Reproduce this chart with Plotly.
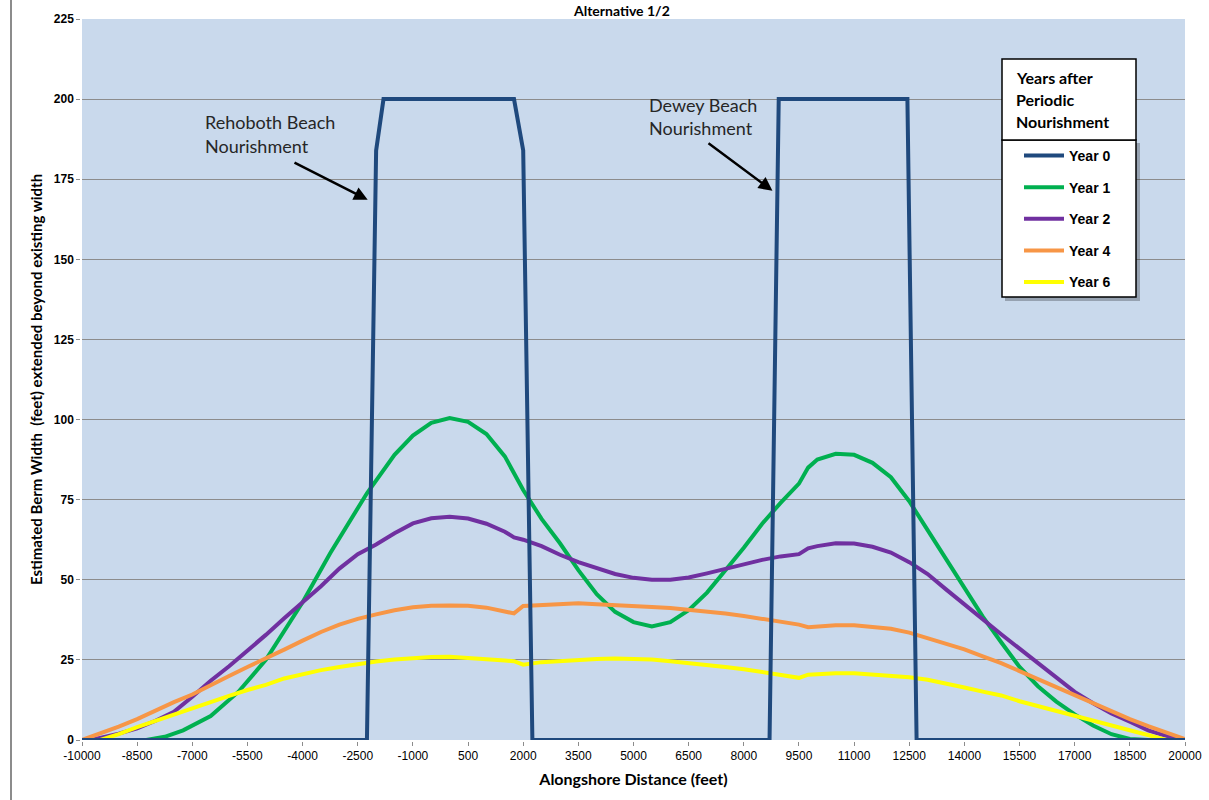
import plotly.graph_objects as go

# ---------------- data ----------------
x_year0 = [-10000, -2250, -2000, -1800, 1750, 2000, 2250, 8700, 8950, 12450, 12700, 20000]
y_year0 = [0, 0, 184, 200, 200, 184, 0, 0, 200, 200, 0, 0]

x_year1 = [-10000, -8250, -7750, -7250, -6500, -5750, -5000, -4000, -3250, -2250, -1500, -1000, -500, 0,
           500, 1000, 1500, 2000, 2500, 3000, 3500, 4000, 4500, 5000, 5500, 6000, 6500, 7000, 7500,
           8000, 8500, 9000, 9500, 9750, 10000, 10500, 11000, 11500, 12000, 12500, 13000, 13500,
           14000, 14500, 15000, 15500, 16000, 16500, 17000, 17500, 18000, 18500, 19000, 20000]
y_year1 = [0, 0, 1, 3, 7.5, 15, 25, 43, 58.3, 77, 89, 95, 99, 100.5,
           99.3, 95.5, 88.5, 78, 69, 61.4, 53, 45.5, 40, 36.8, 35.4, 36.8, 40.5, 46, 53,
           60, 67.5, 74, 80, 85, 87.5, 89.3, 89, 86.5, 82, 74.5, 65.5, 56.5,
           47.5, 38.5, 30.5, 22.8, 16.8, 12, 8, 4.5, 1.8, 0.3, 0, 0]

x_year2 = [-10000, -9750, -9000, -8500, -8000, -7500, -7000, -6500, -6000, -5500, -5000, -4500, -4000,
           -3500, -3000, -2500, -2000, -1500, -1000, -500, 0, 500, 1000, 1500, 1750, 2000, 2500,
           3000, 3500, 4000, 4500, 5000, 5500, 6000, 6500, 7000, 7500, 8000, 8500, 9000, 9500,
           9750, 10000, 10500, 11000, 11500, 12000, 12500, 13000, 13500, 14000, 14500, 15000,
           15500, 16000, 16500, 17000, 17500, 18000, 18500, 19000, 19500, 20000]
y_year2 = [0, 0, 2, 3.6, 6, 8.8, 13.5, 18.5, 23, 27.8, 32.8, 38, 43,
           48, 53.5, 58, 61, 64.5, 67.6, 69.2, 69.7, 69.1, 67.5, 65, 63.2, 62.5, 60.5,
           57.8, 55.5, 53.5, 51.8, 50.6, 50, 50, 50.7, 52, 53.5, 55, 56.2, 57.3, 58,
           59.8, 60.5, 61.4, 61.3, 60.3, 58.5, 55.5, 51.8, 47, 42.2, 37.5, 33,
           28.5, 24, 19.5, 15, 11.5, 8.3, 5.7, 3, 1.2, 0]

x_year4 = [-10000, -9500, -9000, -8500, -8000, -7500, -7000, -6500, -6000, -5500, -5000, -4500, -4000,
           -3500, -3000, -2500, -2000, -1500, -1000, -500, 0, 500, 1000, 1500, 1750, 2000, 2500,
           3000, 3500, 4000, 4500, 5000, 5500, 6000, 6500, 7000, 7500, 8000, 8500, 9000, 9500,
           9750, 10000, 10500, 11000, 11500, 12000, 12500, 13000, 13500, 14000, 14500, 15000,
           15500, 16000, 16500, 17000, 17500, 18000, 18500, 19000, 19500, 20000]
y_year4 = [0, 2, 4.2, 6.5, 9.2, 11.8, 14.2, 17.2, 20, 22.8, 25.4, 28.2, 31,
           33.7, 36, 37.8, 39.2, 40.5, 41.4, 41.9, 42, 41.9, 41.3, 40.3, 39.5, 41.8, 42,
           42.4, 42.7, 42.4, 42.2, 41.8, 41.5, 41.2, 40.7, 40.2, 39.5, 38.7, 37.8, 37, 36,
           35.2, 35.5, 35.8, 35.8, 35.3, 34.7, 33.5, 31.7, 30.2, 28.3, 26.1, 24,
           21.5, 19, 16.3, 13.7, 11.2, 8.8, 6.5, 4.3, 2.2, 0.3]

x_year6 = [-9500, -9000, -8500, -8000, -7500, -7000, -6500, -6000, -5500, -5000, -4500, -4000,
           -3500, -3000, -2500, -2000, -1500, -1000, -500, 0, 500, 1000, 1500, 1750, 2000, 2500,
           3000, 3500, 4000, 4500, 5000, 5500, 6000, 6500, 7000, 7500, 8000, 8500, 9000, 9500,
           9750, 10000, 10500, 11000, 11500, 12000, 12500, 13000, 13500, 14000, 14500, 15000,
           15500, 16000, 16500, 17000, 17500, 18000, 18500, 19000, 19500]
y_year6 = [0, 1.8, 4, 6, 7.8, 10, 11.8, 13.8, 15.6, 17.2, 19.2, 20.6,
           21.8, 22.8, 23.8, 24.5, 25.1, 25.6, 25.9, 26, 25.7, 25.3, 24.8, 24.6, 23.5, 24.3,
           24.7, 25.1, 25.3, 25.4, 25.4, 25.1, 24.6, 24.1, 23.5, 22.8, 22.1, 21.2, 20.2, 19.4,
           20.4, 20.6, 20.8, 20.8, 20.5, 20.2, 19.6, 18.8, 17.7, 16.4, 15.1, 13.9,
           12.1, 10.6, 9, 7.4, 5.8, 4.3, 2.8, 1.3, 0]

series_names = ["Year 0", "Year 1", "Year 2", "Year 4", "Year 6"]
series_colors = ["#1f497d", "#00b050", "#7030a0", "#f79646", "#ffff00"]
x_ticks = list(range(-10000, 20001, 1500))
y_ticks = list(range(0, 226, 25))

# ---------------- figure ----------------
W, H = 1209, 800
L, R, T, B = 82, 24, 19, 60
PW, PH = W - L - R, H - T - B


def px2paper_x(px):
    return (px - L) / PW


def py2paper_y(py):
    return (H - B - py) / PH


fig = go.Figure()
data = [(x_year0, y_year0), (x_year1, y_year1), (x_year2, y_year2), (x_year4, y_year4), (x_year6, y_year6)]
for i, ((xs, ys), name, col) in enumerate(zip(data, series_names, series_colors)):
    fig.add_trace(go.Scatter(
        x=xs, y=ys, mode="lines", name=name,
        line=dict(color=col, width=4),
        legendgroup=name,
        zorder=2 if i == 0 else 1,
    ))

font_cal = "Lato, 'Open Sans', sans-serif"
font_ar = "'Liberation Sans', Arial, sans-serif"

fig.update_layout(
    width=W, height=H,
    margin=dict(l=L, r=R, t=T, b=B, autoexpand=False),
    paper_bgcolor="white",
    plot_bgcolor="#c9d9ec",
    showlegend=True,
    legend=dict(
        x=px2paper_x(1019), y=py2paper_y(140), xanchor="left", yanchor="top",
        xref="paper", yref="paper",
        bgcolor="rgba(0,0,0,0)", borderwidth=0,
        font=dict(family=font_ar, size=14, color="black", weight="bold"),
        traceorder="grouped", tracegroupgap=10.4,
        itemwidth=40,
    ),
    xaxis=dict(
        range=[-10000, 20000], tickmode="array", tickvals=x_ticks,
        ticktext=[str(v) for v in x_ticks],
        showgrid=False, zeroline=False,
        showline=True, linecolor="#8c8c8c", linewidth=1.5,
        ticks="outside", ticklen=4, tickcolor="#8c8c8c",
        tickfont=dict(family=font_ar, size=12, color="black"),
        title=dict(text="<b>Alongshore Distance (feet)</b>",
                   font=dict(family=font_cal, size=16, color="black"), standoff=12),
        automargin=False,
    ),
    yaxis=dict(
        range=[0, 225], tickmode="array", tickvals=y_ticks,
        showgrid=True, gridcolor="#8c8c8c", gridwidth=1.3,
        zeroline=False,
        showline=True, linecolor="#8c8c8c", linewidth=1.5,
        ticks="outside", ticklen=4, tickcolor="#8c8c8c",
        tickfont=dict(family=font_ar, size=12, color="black", weight="bold"),
        title=dict(text="<b>Estimated Berm Width  (feet) extended beyond existing width</b>",
                   font=dict(family=font_cal, size=15, color="black"), standoff=8),
        automargin=False,
    ),
)

shapes = []
# outer chart border at left
shapes.append(dict(type="line", xref="paper", yref="paper",
                   x0=px2paper_x(11), x1=px2paper_x(11), y0=py2paper_y(-5), y1=py2paper_y(805),
                   line=dict(color="#8c8c8c", width=2), layer="above"))
# legend shadow
shapes.append(dict(type="rect", xref="paper", yref="paper",
                   x0=px2paper_x(1005), x1=px2paper_x(1140), y0=py2paper_y(301), y1=py2paper_y(143),
                   fillcolor="rgba(0,0,0,0.25)", line=dict(width=0), layer="above"))
# legend items box
shapes.append(dict(type="rect", xref="paper", yref="paper",
                   x0=px2paper_x(1002), x1=px2paper_x(1136), y0=py2paper_y(297), y1=py2paper_y(140),
                   fillcolor="white", line=dict(color="black", width=1.5), layer="above"))
# legend title box
shapes.append(dict(type="rect", xref="paper", yref="paper",
                   x0=px2paper_x(1002), x1=px2paper_x(1136), y0=py2paper_y(140), y1=py2paper_y(59),
                   fillcolor="white", line=dict(color="black", width=1.5), layer="above"))
fig.update_layout(shapes=shapes)

ann = []
# chart title (top edge)
ann.append(dict(text="<b>Alternative 1/2</b>", xref="paper", yref="paper",
                x=px2paper_x(621), y=py2paper_y(0), xanchor="center", yanchor="top",
                showarrow=False, font=dict(family=font_cal, size=14, color="black")))
# legend title lines
for txt, py in [("Years after", 77.7), ("Periodic", 99.3), ("Nourishment", 121)]:
    ann.append(dict(text="<b>%s</b>" % txt, xref="paper", yref="paper",
                    x=px2paper_x(1014), y=py2paper_y(py), xanchor="left", yanchor="middle",
                    showarrow=False, font=dict(family=font_cal, size=16, color="black")))
# beach labels
for txt, px, py in [("Rehoboth Beach", 203, 121.5), ("Nourishment", 203, 145.5),
                    ("Dewey Beach", 647, 105.5), ("Nourishment", 647, 128)]:
    ann.append(dict(text=txt, xref="paper", yref="paper",
                    x=px2paper_x(px), y=py2paper_y(py), xanchor="left", yanchor="middle",
                    showarrow=False, font=dict(family=font_cal, size=18, color="#262626")))
# arrows (data coordinates)
for (x0, y0, x1, y1) in [(-4261, 180.4, -2230, 168.6), (6999, 186.6, 8780, 171.4)]:
    ann.append(dict(x=x1, y=y1, ax=x0, ay=y0, xref="x", yref="y", axref="x", ayref="y",
                    text="", showarrow=True, arrowhead=2, arrowsize=1.1, arrowwidth=2.5,
                    arrowcolor="black"))
fig.update_layout(annotations=ann)

fig.write_html("out.html")
